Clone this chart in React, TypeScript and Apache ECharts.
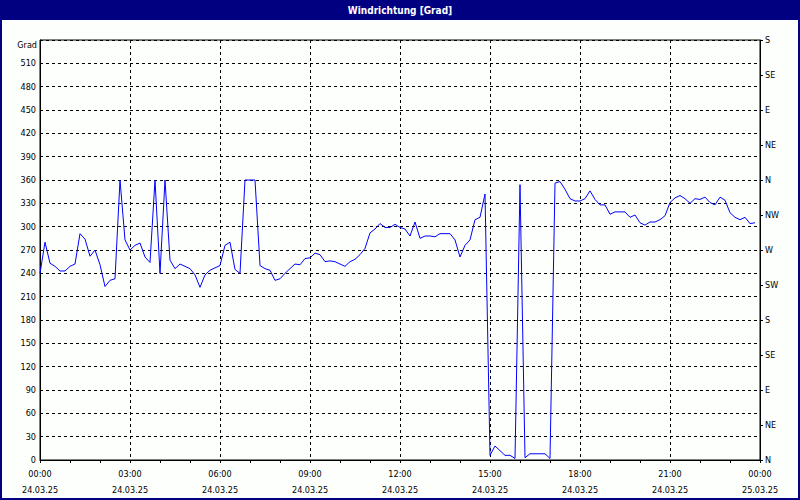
import React, { useEffect, useRef } from "react";
import * as echarts from "echarts";

// Wind direction (degrees), one value every 10 minutes from 24.03.25 00:00
const stepMinutes = 10;
const windDirection: number[] = [
  240, 280, 253, 249, 243, 243, 249, 252, 291, 284, 262, 270,
  251, 223, 231, 233, 360, 283, 270, 276, 279, 261, 254, 360,
  240, 360, 257, 246, 252, 249, 246, 238, 222, 238, 244, 247,
  250, 276, 280, 245, 240, 360, 360, 360, 250, 246, 244, 231,
  233, 240, 246, 252, 251, 259, 260, 266, 264, 255, 256, 255,
  252, 249, 255, 258, 264, 272, 292, 297, 304, 299, 299, 303,
  299, 297, 288, 306, 285, 288, 288, 287, 291, 291, 291, 283,
  261, 276, 283, 309, 312, 342, 6, 18, 12, 6, 6, 2,
  354, 3, 8, 8, 8, 8, 2, 356, 358, 348, 336, 333,
  333, 336, 346, 335, 328, 328, 316, 319, 319, 319, 312, 315,
  305, 302, 306, 306, 309, 314, 331, 337, 340, 336, 330, 336,
  335, 338, 331, 328, 338, 334, 318, 312, 309, 312, 304, 305,
];

const compassLabels: string[] = ["N", "NE", "E", "SE", "S", "SW", "W", "NW", "N", "NE", "E", "SE", "S"];
const dayLabels: string[] = ["24.03.25", "25.03.25"];
const titleText = "Windrichtung [Grad]";
const yName = "Grad";

const FONT = "'DejaVu Sans Condensed', 'Liberation Sans', sans-serif";
const FS = 9;

export default function App() {
  const ref = useRef<HTMLDivElement>(null);
  useEffect(() => {
    if (!ref.current) return;
    const chart = echarts.init(ref.current, undefined, { renderer: "svg" });
    const data = windDirection.map((v, i) => [i * stepMinutes, v]);
    const pad = (n: number) => (n < 10 ? "0" + n : "" + n);
    chart.setOption({
      animation: false,
      backgroundColor: "#fcfffc",
      textStyle: { fontFamily: FONT },
      grid: {
        left: 40,
        right: 40,
        top: 40,
        bottom: 40,
        show: true,
        borderColor: "#000",
        borderWidth: 1,
        containLabel: false,
      },
      graphic: [
        { type: "rect", shape: { x: 0, y: 0, width: 800, height: 20 }, style: { fill: "#000080" }, silent: true },
        {
          type: "text",
          x: 400,
          y: 10,
          style: { text: titleText, fill: "#fff", font: "bold 10px " + FONT, align: "center", verticalAlign: "middle" },
        },
        {
          type: "rect",
          shape: { x: 1, y: 1, width: 798, height: 498 },
          style: { fill: "none", stroke: "#000080", lineWidth: 2 },
          silent: true,
        },
        {
          type: "text",
          x: 37,
          y: 45,
          style: { text: yName, fill: "#000", font: FS + "px " + FONT, align: "right", verticalAlign: "middle" },
        },
      ],
      xAxis: {
        type: "value",
        min: 0,
        max: 1440,
        interval: 180,
        axisLine: { show: true, lineStyle: { color: "#000", width: 1 } },
        axisTick: { show: true, length: 3, lineStyle: { color: "#000" } },
        minorTick: { show: true, splitNumber: 3, length: 3, lineStyle: { color: "#000" } },
        splitLine: { show: true, lineStyle: { color: "#000", type: [3, 3], width: 1 } },
        axisLabel: {
          color: "#000",
          fontSize: FS,
          fontFamily: FONT,
          lineHeight: 16,
          margin: 6,
          formatter: (v: number) => {
            const day = Math.floor(v / 1440);
            const h = Math.floor((v % 1440) / 60);
            return pad(h) + ":00\n" + dayLabels[day];
          },
        },
      },
      yAxis: [
        {
          type: "value",
          min: 0,
          max: 540,
          interval: 30,
          axisLine: { show: true, lineStyle: { color: "#000" } },
          axisTick: { show: false },
          splitLine: { show: true, lineStyle: { color: "#000", type: [3, 3], width: 1 } },
          axisLabel: {
            color: "#000",
            fontSize: FS,
            fontFamily: FONT,
            margin: 4,
            formatter: (v: number) => (v === 540 ? "" : String(v)),
          },
        },
        {
          type: "value",
          position: "right",
          min: 0,
          max: 540,
          interval: 45,
          axisLine: { show: true, lineStyle: { color: "#000" } },
          axisTick: { show: true, length: 3, lineStyle: { color: "#000" } },
          splitLine: { show: false },
          axisLabel: {
            color: "#000",
            fontSize: FS,
            fontFamily: FONT,
            margin: 5,
            formatter: (v: number) => compassLabels[Math.round(v / 45)] ?? "",
          },
        },
      ],
      series: [
        {
          type: "line",
          data,
          yAxisIndex: 0,
          symbol: "none",
          lineStyle: { color: "#0000ff", width: 1 },
          itemStyle: { color: "#0000ff" },
        },
      ],
    });
    return () => chart.dispose();
  }, []);
  return (
    <div
      ref={ref}
      style={{ position: "fixed", left: 0, top: 0, width: 800, height: 500 }}
    />
  );
}
